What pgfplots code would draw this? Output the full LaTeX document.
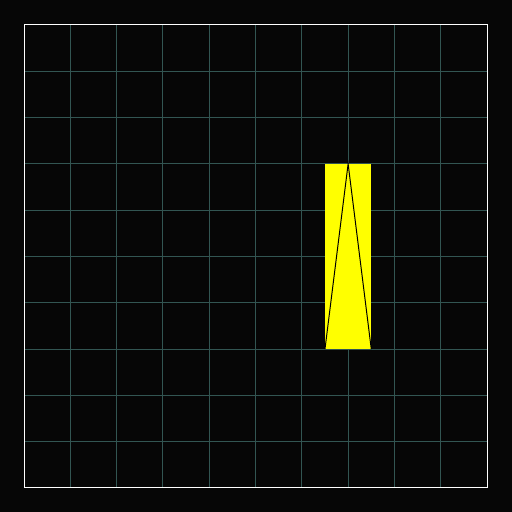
\documentclass[border=0pt]{standalone}
\usepackage{pgfplots}
\pgfplotsset{compat=1.18}
\definecolor{gridc}{RGB}{50,85,82}
\definecolor{bgc}{RGB}{6,6,6}
\definecolor{yel}{RGB}{255,255,0}
\begin{document}
\begin{tikzpicture}
\fill[bgc] (0,0) rectangle (10cm,10cm);
\begin{axis}[
  at={(0.469cm,0.469cm)}, anchor=south west,
  scale only axis, width=9.043cm, height=9.043cm,
  xmin=0, xmax=10, ymin=0, ymax=10,
  xtick={0,...,10}, ytick={0,...,10},
  xticklabels={}, yticklabels={},
  major tick length=0pt,
  grid=major,
  major grid style={draw=gridc, line width=0.55pt},
  axis line style={draw=white, line width=0.55pt},
]
\addplot[fill=yel, draw=none] coordinates {(6.5,3) (6.5,7) (7.5,7) (7.5,3)} --cycle;
\addplot[black, line width=0.55pt, mark=none] coordinates {(6.5,3) (7,7) (7.5,3)};
\end{axis}
\end{tikzpicture}
\end{document}
